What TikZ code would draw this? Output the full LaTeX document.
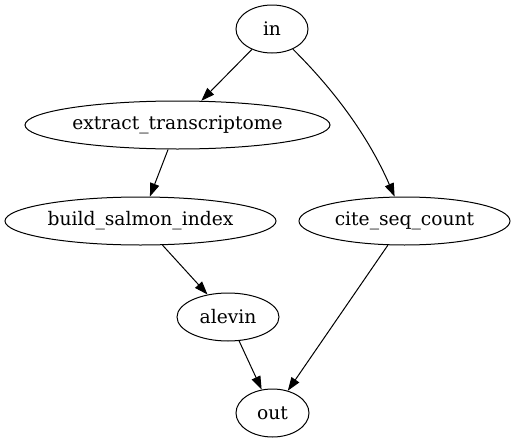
\documentclass[tikz,border=0pt]{standalone}
\usepackage{fontspec}
\setmainfont{DejaVu Serif}
\usetikzlibrary{shapes.geometric,arrows.meta}
\begin{document}
\begin{tikzpicture}[x=0.75pt,y=-0.75pt,
  gnode/.style={draw,ellipse,inner sep=0pt,minimum height=36pt,font=\fontsize{14pt}{16pt}\selectfont,line width=0.75pt},
  garrow/.style={-{Triangle[length=10pt,width=7pt]},line width=0.75pt}]
\useasboundingbox (0,0) rectangle (515,443);
\node[gnode,minimum width=54pt] (in) at (272,29) {in};
\node[gnode,minimum width=228.75pt] (extract) at (177.5,125) {extract\_transcriptome};
\node[gnode,minimum width=203.25pt] (build) at (140.5,221) {build\_salmon\_index};
\node[gnode,minimum width=158.25pt] (cite) at (404.5,221) {cite\_seq\_count};
\node[gnode,minimum width=76.5pt] (alevin) at (228,317) {alevin};
\node[gnode,minimum width=54.75pt] (out) at (272.5,413) {out};
\draw[garrow] (in) -- (extract);
\draw[garrow] (in.-44) .. controls (318,74) and (362,122) .. (cite.112);
\draw[garrow] (extract) -- (build);
\draw[garrow] (build) -- (alevin);
\draw[garrow] (alevin) -- (out);
\draw[garrow] (cite) -- (out);
\end{tikzpicture}
\end{document}
